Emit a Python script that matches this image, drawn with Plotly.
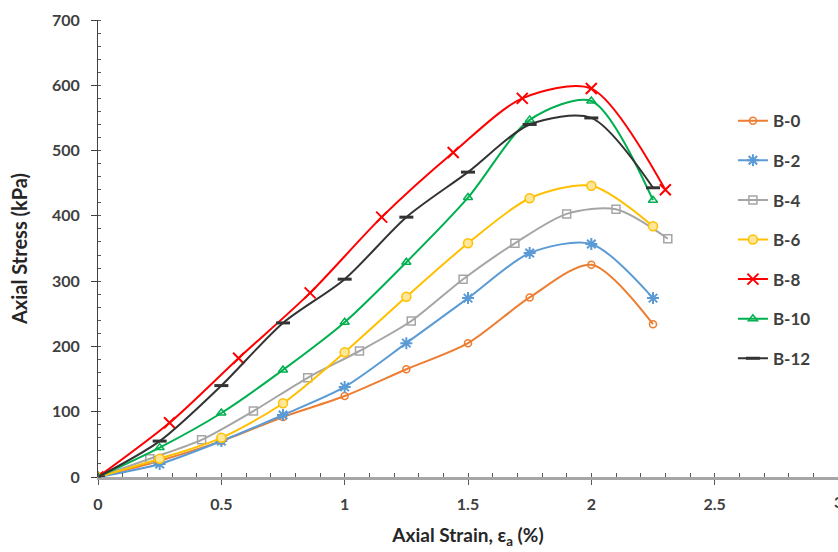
import plotly.graph_objects as go

# Axial strain (%) sampling for most specimens
strain = [0, 0.25, 0.5, 0.75, 1.0, 1.25, 1.5, 1.75, 2.0, 2.25]
strain_b4 = [0, 0.21, 0.42, 0.63, 0.85, 1.06, 1.27, 1.48, 1.69, 1.90, 2.10, 2.31]
strain_b8 = [0, 0.29, 0.57, 0.86, 1.15, 1.44, 1.72, 2.0, 2.3]

# Axial stress (kPa)
stress_b0 = [0, 25, 55, 92, 124, 165, 205, 275, 325, 234]
stress_b2 = [0, 20, 55, 95, 138, 205, 274, 343, 357, 274]
stress_b4 = [0, 28, 57, 101, 152, 193, 239, 303, 358, 403, 410, 365]
stress_b6 = [0, 28, 60, 113, 191, 276, 358, 427, 446, 384]
stress_b8 = [0, 83, 182, 282, 398, 497, 580, 595, 440]
stress_b10 = [0, 45, 98, 164, 237, 329, 428, 547, 576, 424]
stress_b12 = [0, 55, 140, 236, 303, 398, 467, 540, 550, 443]

x_ticks = [0, 0.5, 1, 1.5, 2, 2.5]
x_tick_labels = ["0", "0.5", "1", "1.5", "2", "2.5"]
x_last_tick = 3

series = [
    ("B-0", strain, stress_b0, "#ED7D31", "circle-open", 7, 1.5, None),
    ("B-2", strain, stress_b2, "#5B9BD5", "asterisk-open", 10, 2, None),
    ("B-4", strain_b4, stress_b4, "#A5A5A5", "square-open", 8, 1.5, None),
    ("B-6", strain, stress_b6, "#FFC000", "circle", 9, 1.5, "#FFE699"),
    ("B-8", strain_b8, stress_b8, "#FF0000", "x-thin-open", 11, 2, None),
    ("B-10", strain, stress_b10, "#00B050", "triangle-up-open", 8, 1.5, None),
    ("B-12", strain, stress_b12, "#333333", "line-ew-open", 10, 3, None),
]

fig = go.Figure()
for i, (name, xs, ys, color, symbol, size, mlw, fill) in enumerate(series):
    fig.add_trace(go.Scatter(
        x=xs, y=ys, name=name, mode="lines+markers",
        legendgroup=f"g{i}",
        line=dict(color=color, width=2, shape="spline", smoothing=0.8),
        marker=dict(symbol=symbol, size=size,
                    color=fill if fill else color,
                    line=dict(color=color, width=mlw)),
    ))

tick_font = dict(size=16, color="#404040", weight="bold")

# the last x tick label sits on the right edge of the page
fig.add_annotation(
    x=x_last_tick, y=0, xref="x", yref="y", text=str(x_last_tick),
    showarrow=False, yanchor="top", xanchor="center", yshift=-13,
    font=tick_font,
)

fig.update_layout(
    width=838, height=552,
    margin=dict(l=98, r=0, t=20, b=75),
    paper_bgcolor="white", plot_bgcolor="white",
    font=dict(family="Lato, Open Sans, sans-serif", size=13, color="#404040"),
    showlegend=True,
    legend=dict(
        x=0.858, y=0.818, xanchor="left", yanchor="top",
        font=dict(size=17, color="#404040", weight="bold"),
        traceorder="grouped", tracegroupgap=14.5,
        itemwidth=30, bgcolor="rgba(0,0,0,0)",
    ),
    xaxis=dict(
        range=[0, 3], tickvals=x_ticks, ticktext=x_tick_labels,
        showgrid=False, zeroline=False,
        showline=True, linecolor="#A6A6A6", linewidth=3,
        ticks="outside", ticklen=5, tickcolor="#595959",
        ticklabelstandoff=6,
        tickfont=tick_font,
        minor=dict(dtick=0.1, ticks="inside", ticklen=4, tickcolor="#595959"),
        title=dict(text="Axial Strain, ε<sub>a</sub> (%)",
                   font=dict(size=19, color="#262626", weight="bold"), standoff=17),
    ),
    yaxis=dict(
        range=[0, 700], dtick=100,
        showgrid=False, zeroline=False,
        showline=True, linecolor="#404040", linewidth=1,
        ticks="outside", ticklen=6, tickcolor="#404040",
        ticklabelstandoff=8,
        tickfont=tick_font,
        minor=dict(dtick=20, ticks="inside", ticklen=3, tickcolor="#595959"),
        title=dict(text="Axial Stress (kPa)",
                   font=dict(size=20, color="#262626", weight="bold"), standoff=18),
    ),
)

fig.write_html("out.html")
